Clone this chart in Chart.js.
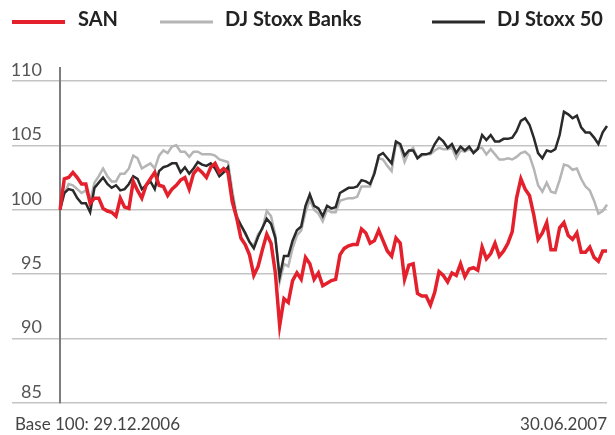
<!DOCTYPE html>
<html>
<head>
<meta charset="utf-8">
<script src="https://cdn.jsdelivr.net/npm/chart.js@4/dist/chart.umd.min.js"></script>
<style>
  body { margin: 0; background: #fff; }
  canvas { display: block; }
</style>
</head>
<body>
<canvas id="chart" width="615" height="435"></canvas>
<script>
// index base 100 = 29.12.2006, daily closes up to 30.06.2007
const sanValues = [
  100.0, 102.4, 102.5, 102.9, 102.5, 102.0, 102.0, 100.5, 100.9, 100.9,
  100.1, 99.9, 99.8, 99.5, 100.9, 100.2, 100.1, 102.2, 101.5, 100.9,
  101.9, 102.4, 102.9, 101.9, 101.8, 101.1, 101.6, 101.9, 102.3, 102.5,
  101.6, 102.8, 103.2, 102.9, 102.5, 103.3, 103.6, 102.9, 103.2, 102.9,
  100.6, 99.4, 97.8, 97.3, 96.5, 94.9, 95.6, 96.9, 98.1, 97.4,
  95.1, 91.0, 93.1, 92.8, 94.5, 95.1, 94.6, 96.3, 95.8, 94.6,
  95.1, 94.1, 94.3, 94.5, 94.6, 96.5, 97.0, 97.2, 97.3, 97.3,
  98.5, 98.2, 97.4, 97.6, 98.4, 97.6, 96.8, 96.4, 97.8, 97.4,
  94.6, 95.7, 95.8, 93.5, 93.3, 93.3, 92.6, 93.6, 95.2, 94.9,
  94.4, 95.1, 94.9, 95.8, 94.8, 95.4, 95.5, 95.3, 97.1, 96.2,
  96.6, 97.4, 96.4, 96.8, 97.4, 98.3, 100.9, 102.4, 101.6, 101.1,
  99.6, 97.7, 98.2, 99.0, 96.9, 96.9, 98.6, 99.0, 98.0, 97.7,
  98.2, 96.7, 96.7, 97.1, 96.3, 96.0, 96.8, 96.8
];

const banksValues = [
  100.0, 101.2, 102.0, 101.9, 101.6, 101.3, 101.5, 100.7, 102.1, 102.6,
  103.2, 102.6, 102.2, 102.2, 102.8, 102.8, 103.2, 104.2, 104.0, 103.2,
  103.4, 103.6, 103.2, 104.2, 104.6, 104.4, 104.9, 105.0, 104.5, 104.5,
  104.1, 104.5, 104.5, 104.3, 104.3, 104.3, 104.2, 103.9, 103.8, 103.7,
  101.5, 99.6, 98.8, 98.1, 97.5, 97.2, 98.1, 98.5, 99.9, 99.5,
  98.0, 94.4, 95.8, 95.6, 97.0, 98.0, 98.4, 99.8, 100.8, 100.0,
  99.7, 99.1, 100.0, 99.8, 99.8, 100.7, 100.8, 100.9, 100.9, 101.0,
  101.8, 101.8, 101.8, 103.0, 104.0, 103.9, 103.4, 103.0, 105.2, 104.9,
  103.7, 104.5, 104.8, 104.0, 104.2, 104.3, 104.3, 104.6, 104.8, 104.7,
  104.7, 104.8, 104.0, 104.6, 104.5, 104.7, 104.5, 104.8, 104.8, 104.3,
  104.7, 104.3, 103.9, 103.9, 104.0, 103.9, 104.1, 104.4, 104.5, 104.2,
  103.2, 101.9, 101.4, 102.1, 101.4, 101.3, 102.3, 103.5, 103.4, 103.1,
  103.2, 102.4, 101.8, 101.5, 100.7, 99.7, 99.9, 100.4
];

const stoxx50Values = [
  100.0, 101.3, 101.6, 101.5, 100.9, 100.5, 100.5, 99.8, 101.7, 102.1,
  102.5, 102.0, 101.7, 101.9, 101.5, 101.6, 102.0, 102.6, 102.4, 101.6,
  101.9, 102.2, 101.6, 103.0, 103.3, 103.4, 103.6, 103.6, 102.9, 103.3,
  102.8, 103.2, 103.7, 103.5, 103.4, 103.6, 103.2, 102.6, 102.9, 103.3,
  101.0, 99.4, 98.8, 98.2, 97.5, 97.0, 97.9, 98.6, 99.3, 98.9,
  97.8, 94.8, 96.4, 96.4, 97.6, 98.4, 98.7, 100.3, 101.2, 100.3,
  100.1, 99.5, 100.3, 100.1, 100.2, 101.3, 101.5, 101.7, 101.7, 101.8,
  102.3, 102.2, 102.0, 102.8, 104.2, 104.4, 104.0, 103.6, 105.3, 105.1,
  104.2, 104.6, 104.6, 104.0, 104.3, 104.3, 104.4, 105.1, 105.6, 105.3,
  104.8, 105.1, 104.4, 104.9, 104.6, 104.9, 104.4, 104.7, 105.8, 105.4,
  105.8, 105.3, 105.3, 105.5, 105.5, 105.6, 106.1, 106.9, 107.1, 106.6,
  105.6, 104.4, 104.0, 104.6, 104.5, 104.7, 105.8, 107.6, 107.4, 107.1,
  107.3, 106.4, 106.0, 106.0, 105.6, 105.1, 106.0, 106.5
];

const dayLabels = sanValues.map((_, i) => i + 1);
const yTicks = [85, 90, 95, 100, 105, 110];

const seriesNames = ["SAN", "DJ Stoxx Banks", "DJ Stoxx 50"];
const seriesColors = ["#e3202b", "#b5b5b5", "#2a2a2a"];
const baseNote = "Base 100: 29.12.2006";
const endNote = "30.06.2007";

Chart.defaults.font.family = "Lato, 'Open Sans', sans-serif";

// legend + footnotes are drawn by hand so they sit where the original puts them
const extrasPlugin = {
  id: "extras",
  afterDraw(chart) {
    const ctx = chart.ctx;
    const items = [
      { lineX: 12, textX: 78, width: 4 },
      { lineX: 160, textX: 225, width: 3 },
      { lineX: 432, textX: 497, width: 3 },
    ];
    ctx.save();
    items.forEach((it, i) => {
      ctx.strokeStyle = seriesColors[i];
      ctx.lineWidth = it.width;
      ctx.beginPath();
      ctx.moveTo(it.lineX, 22);
      ctx.lineTo(it.lineX + 53, 22);
      ctx.stroke();

      ctx.fillStyle = "#222";
      ctx.font = "bold 20px Lato, 'Open Sans', sans-serif";
      ctx.textBaseline = "middle";
      ctx.textAlign = "left";
      ctx.fillText(seriesNames[i], it.textX, 20);
    });

    ctx.fillStyle = "#444";
    ctx.font = "17px Lato, 'Open Sans', sans-serif";
    ctx.textBaseline = "middle";
    ctx.textAlign = "left";
    ctx.fillText(baseNote, 15, 425);
    ctx.textAlign = "right";
    ctx.fillText(endNote, 607, 425);
    ctx.restore();
  },
};

const ctx = document.getElementById("chart").getContext("2d");

new Chart(ctx, {
  type: "line",
  data: {
    labels: dayLabels,
    datasets: [
      {
        label: seriesNames[0],
        data: sanValues,
        borderColor: seriesColors[0],
        borderWidth: 3.5,
        order: 0,
      },
      {
        label: seriesNames[2],
        data: stoxx50Values,
        borderColor: seriesColors[2],
        borderWidth: 2.5,
        order: 1,
      },
      {
        label: seriesNames[1],
        data: banksValues,
        borderColor: seriesColors[1],
        borderWidth: 2.5,
        order: 2,
      },
    ],
  },
  options: {
    responsive: false,
    animation: false,
    elements: {
      point: { radius: 0 },
      line: { tension: 0 },
    },
    layout: {
      padding: { top: 68, left: 12, right: 8, bottom: 32 },
    },
    plugins: {
      legend: { display: false },
      tooltip: { enabled: false },
    },
    scales: {
      x: { display: false },
      y: {
        min: 85,
        max: 111,
        bounds: "data",
        afterFit(scale) {
          scale.width = 48;
        },
        afterBuildTicks(scale) {
          scale.ticks = yTicks.map((v) => ({ value: v }));
        },
        border: { color: "#7d7d7d", width: 2 },
        grid: {
          color: "#c4c4c4",
          lineWidth: 1.5,
          tickLength: 48,
          drawTicks: true,
        },
        ticks: {
          padding: -30,
          labelOffset: -11,
          color: "#555",
          font: { size: 18 },
        },
      },
    },
  },
  plugins: [extrasPlugin],
});
</script>
</body>
</html>
